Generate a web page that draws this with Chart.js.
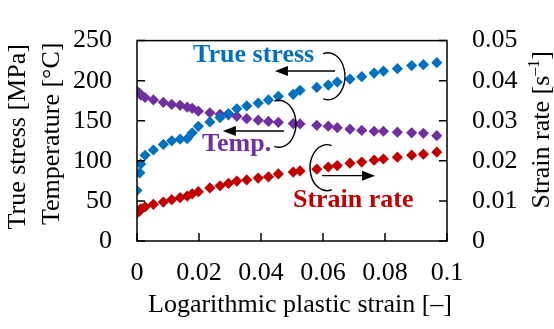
<!DOCTYPE html>
<html><head><meta charset="utf-8">
<script src="https://cdn.jsdelivr.net/npm/chart.js@4/dist/chart.umd.min.js"></script>
<style>html,body{margin:0;padding:0;background:#fff;}#wrap{width:554px;height:329px;}</style>
</head><body><div id="wrap"><canvas id="c" width="554" height="329"></canvas></div>
<script>
const strain = [0, 0.0009, 0.0012, 0.0026, 0.0053, 0.0085, 0.0112, 0.0139, 0.0162, 0.0178, 0.0198, 0.0235, 0.0268, 0.0295, 0.0322, 0.0354, 0.0391, 0.0424, 0.0456, 0.0504, 0.0526, 0.0580, 0.0617, 0.0646, 0.0687, 0.0725, 0.0765, 0.0795, 0.0840, 0.0886, 0.0924, 0.0967];
const trueStress = [63, 85, 96, 107, 113.5, 120.5, 125, 127, 127.6, 135, 143, 148.5, 154, 159, 165, 168.5, 172, 176, 180.5, 183, 188, 191.6, 194.5, 198.3, 202, 205, 209.5, 212, 215, 218.8, 220, 222.5];
const temperature = [187, 184, 182, 179, 176, 173, 170.4, 169.3, 167, 165.5, 162, 160, 158, 157.4, 155.5, 152.6, 150.7, 149.2, 148, 146.5, 146, 144.3, 143.2, 141.4, 139.5, 138, 136.9, 136.9, 135.8, 135, 134.3, 131.4];
const strainRate = [0.00692, 0.00752, 0.0080, 0.0085, 0.00916, 0.0097, 0.0103, 0.0108, 0.0112, 0.01176, 0.0123, 0.01324, 0.01378, 0.01436, 0.01496, 0.01524, 0.0157, 0.0160, 0.01674, 0.0172, 0.01748, 0.01792, 0.01846, 0.01882, 0.01942, 0.0197, 0.02016, 0.02046, 0.02092, 0.02142, 0.02166, 0.02216];
const xTicks = [0, 0.02, 0.04, 0.06, 0.08, 0.1];
const leftTicks = [0, 50, 100, 150, 200, 250];
const rightTicks = [0, 0.01, 0.02, 0.03, 0.04, 0.05];
const seriesNames = ['True stress', 'Temp.', 'Strain rate'];

const BLUE = '#0070C0', PURPLE = '#7030A0', RED = '#C00000';
const FONT = "'Liberation Serif', 'Times New Roman', serif";

// annotation anchors in data units (x: strain, y: left axis)
const labelNotes = [
  {text: seriesNames[0], x: 0.0181, y: 223.2, color: BLUE},
  {text: seriesNames[1], x: 0.0210, y: 112.7, color: PURPLE},
  {text: seriesNames[2], x: 0.0503, y: 42.4, color: RED}
];
const arrowNotes = [
  {x0: 0.0639, x1: 0.0445, y: 212},
  {x0: 0.0474, x1: 0.0277, y: 137.3},
  {x0: 0.0597, x1: 0.0768, y: 81.5}
];
const bracketNotes = [
  {x: 0.0616, y: 205.4, side: 'right'},
  {x: 0.0458, y: 146.2, side: 'right'},
  {x: 0.0613, y: 91.5, side: 'left'}
];

const fmt = v => v === 0 ? '0' : String(parseFloat(v.toFixed(3)));

const pts = arr => strain.map((s, i) => ({x: s, y: arr[i]}));

const deco = {
  id: 'deco',
  afterDraw(chart) {
    const {ctx, chartArea: a, scales} = chart;
    const xs = scales.x, yl = scales.y, yr = scales.y2;
    ctx.save();
    // frame
    ctx.strokeStyle = '#000';
    ctx.lineWidth = 1.5;
    ctx.strokeRect(a.left, a.top, a.right - a.left, a.bottom - a.top);
    // inward ticks
    const tl = 8;
    ctx.beginPath();
    xTicks.forEach(v => { const p = xs.getPixelForValue(v); ctx.moveTo(p, a.bottom); ctx.lineTo(p, a.bottom - tl); });
    leftTicks.forEach(v => { const p = yl.getPixelForValue(v); ctx.moveTo(a.left, p); ctx.lineTo(a.left + tl, p); });
    rightTicks.forEach(v => { const p = yr.getPixelForValue(v); ctx.moveTo(a.right, p); ctx.lineTo(a.right - tl, p); });
    ctx.stroke();

    // axis titles
    ctx.fillStyle = '#000';
    ctx.font = '26px ' + FONT;
    ctx.textAlign = 'center';
    ctx.textBaseline = 'middle';
    const cy = (a.top + a.bottom) / 2;
    ctx.save(); ctx.translate(18, cy - 4); ctx.rotate(-Math.PI / 2); ctx.fillText('True stress [MPa]', 0, 0); ctx.restore();
    ctx.save(); ctx.translate(52, cy - 7); ctx.rotate(-Math.PI / 2); ctx.fillText('Temperature [\u00B0C]', 0, 0); ctx.restore();
    ctx.textBaseline = 'alphabetic';
    ctx.fillText('Logarithmic plastic strain [\u2013]', (a.left + a.right) / 2 + 8, 312);
    // right title with superscript
    ctx.save();
    ctx.translate(549, cy - 11);
    ctx.rotate(-Math.PI / 2);
    const p1 = 'Strain rate [s', p2 = '\u20131', p3 = ']';
    ctx.font = '26px ' + FONT; const w1 = ctx.measureText(p1).width, w3 = ctx.measureText(p3).width;
    ctx.font = '16px ' + FONT; const w2 = ctx.measureText(p2).width;
    const tw = w1 + w2 + w3;
    let x = -tw / 2;
    ctx.textAlign = 'left';
    ctx.font = '26px ' + FONT; ctx.fillText(p1, x, 0); x += w1;
    ctx.font = '16px ' + FONT; ctx.fillText(p2, x, -10); x += w2;
    ctx.font = '26px ' + FONT; ctx.fillText(p3, x, 0);
    ctx.restore();

    // annotations
    ctx.font = 'bold 26px ' + FONT;
    ctx.textAlign = 'left';
    ctx.textBaseline = 'alphabetic';
    labelNotes.forEach(n => { ctx.fillStyle = n.color; ctx.fillText(n.text, xs.getPixelForValue(n.x), yl.getPixelForValue(n.y)); });
    ctx.strokeStyle = '#000'; ctx.fillStyle = '#000'; ctx.lineWidth = 1.4;
    arrowNotes.forEach(n => {
      const X0 = xs.getPixelForValue(n.x0), X1 = xs.getPixelForValue(n.x1), Y = yl.getPixelForValue(n.y);
      const dir = Math.sign(X1 - X0), hl = 13, hw = 5;
      ctx.beginPath(); ctx.moveTo(X0, Y); ctx.lineTo(X1 - dir * hl, Y); ctx.stroke();
      ctx.beginPath(); ctx.moveTo(X1, Y); ctx.lineTo(X1 - dir * hl, Y - hw); ctx.lineTo(X1 - dir * hl, Y + hw); ctx.closePath(); ctx.fill();
    });
    bracketNotes.forEach(n => {
      const X = xs.getPixelForValue(n.x), Y = yl.getPixelForValue(n.y);
      ctx.beginPath();
      if (n.side === 'right') ctx.ellipse(X, Y, 17, 23.5, 0, -1.85, 1.85);
      else ctx.ellipse(X, Y, 17, 23, 0, Math.PI - 1.85 + 2 * Math.PI - 2 * Math.PI, Math.PI + 1.85);
      ctx.stroke();
    });
    ctx.restore();
  }
};

const ds = (label, arr, color, axis) => ({
  label, data: pts(arr), yAxisID: axis,
  showLine: false, pointStyle: 'rectRot', pointRadius: 5.6, pointHoverRadius: 5.6,
  backgroundColor: color, borderColor: color, borderWidth: 0
});

Chart.defaults.font.family = FONT;
Chart.defaults.font.size = 26;
Chart.defaults.color = '#000';

new Chart(document.getElementById('c'), {
  type: 'scatter',
  data: {
    datasets: [
      ds(seriesNames[0], trueStress, BLUE, 'y'),
      ds(seriesNames[1], temperature, PURPLE, 'y'),
      ds(seriesNames[2], strainRate, RED, 'y2')
    ]
  },
  options: {
    responsive: false, animation: false, devicePixelRatio: 1,
    layout: {padding: {top: 17, left: 0, right: 0, bottom: 0}},
    plugins: {legend: {display: false}, tooltip: {enabled: false}},
    scales: {
      x: {
        type: 'linear', min: 0, max: 0.1,
        afterBuildTicks: s => { s.ticks = xTicks.map(v => ({value: v})); },
        afterFit: s => { s.height = 88; },
        grid: {display: false, drawTicks: false}, border: {display: false},
        ticks: {padding: 17, maxRotation: 0, autoSkip: false, callback: v => fmt(v)}
      },
      y: {
        type: 'linear', position: 'left', min: 0, max: 250,
        afterBuildTicks: s => { s.ticks = leftTicks.map(v => ({value: v})); },
        afterFit: s => { s.width = 137; },
        grid: {display: false, drawTicks: false}, border: {display: false},
        ticks: {padding: 25, callback: v => fmt(v)}
      },
      y2: {
        type: 'linear', position: 'right', min: 0, max: 0.05,
        afterBuildTicks: s => { s.ticks = rightTicks.map(v => ({value: v})); },
        afterFit: s => { s.width = 107; },
        grid: {display: false, drawTicks: false}, border: {display: false},
        ticks: {padding: 25, callback: v => fmt(v)}
      }
    }
  },
  plugins: [deco]
});
</script></body></html>
